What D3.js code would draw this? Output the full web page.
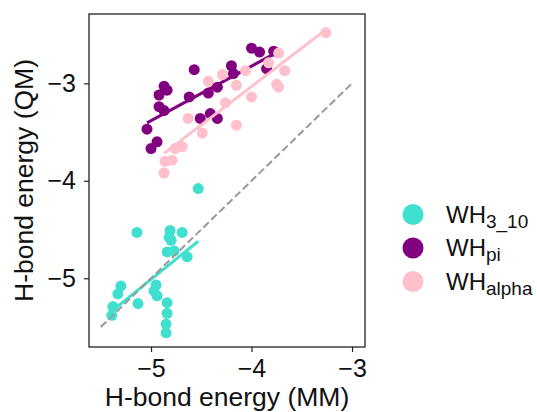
<!DOCTYPE html>
<html>
<head>
<meta charset="utf-8">
<script src="https://cdn.jsdelivr.net/npm/d3@7"></script>
<style>
  body { margin: 0; background: #fff; }
  svg { display: block; font-family: "Liberation Sans", Arial, Helvetica, sans-serif; }
</style>
</head>
<body>
<div id="chart"></div>
<script>
'use strict';

// groups, in draw order
const groups = ['3_10', 'pi', 'alpha'];
const colors = ['#40E0D0', '#800080', '#FFC0CB'];

// WH_3_10
const tenX = [-4.53, -5.14, -4.81, -4.69, -4.80, -4.84, -4.77, -4.64, -5.30, -5.33,
              -4.95, -4.97, -4.94, -5.13, -5.38, -5.39, -4.84, -4.84, -4.85, -4.85, -4.82];
const tenY = [-4.08, -4.53, -4.51, -4.53, -4.61, -4.73, -4.72, -4.78, -5.08, -5.16,
              -5.07, -5.13, -5.18, -5.26, -5.29, -5.38, -5.25, -5.36, -5.47, -5.56, -4.58];

// WH_pi
const piX = [-4.00, -3.92, -3.78, -3.85, -4.57, -4.20, -4.18, -4.87, -4.84, -4.92, -4.34,
             -4.43, -4.62, -4.92, -4.87, -4.51, -4.41, -4.34, -5.04, -4.94, -5.00];
const piY = [-2.64, -2.68, -2.67, -2.85, -2.86, -2.82, -2.90, -3.03, -3.07, -3.12, -3.04,
             -3.10, -3.14, -3.24, -3.28, -3.36, -3.31, -3.36, -3.47, -3.60, -3.67];

// WH_alpha
const alphaX = [-3.26, -3.73, -3.83, -3.67, -4.06, -4.29, -4.43, -4.15, -3.75, -3.73,
                -4.00, -4.26, -4.63, -4.15, -4.49, -4.69, -4.76, -4.79, -4.86, -4.87];
const alphaY = [-2.48, -2.69, -2.79, -2.87, -2.87, -2.91, -2.98, -3.02, -3.01, -3.04,
                -3.14, -3.20, -3.36, -3.43, -3.51, -3.65, -3.67, -3.79, -3.80, -3.92];

const xTicks = [-5, -4, -3];
const yTicks = [-5, -4, -3];
const identity = [-5.5, -3];

const seriesX = [tenX, piX, alphaX];
const seriesY = [tenY, piY, alphaY];

const width = 537, height = 412;
const margin = {top: 14, right: 172, bottom: 65, left: 89};

const svg = d3.select('#chart').append('svg')
    .attr('width', width)
    .attr('height', height);

const x = d3.scaleLinear()
    .domain([-5.617, -2.871])
    .range([margin.left, width - margin.right]);

const y = d3.scaleLinear()
    .domain([-5.705, -2.289])
    .range([height - margin.bottom, margin.top]);

// least squares fit
function fit(xs, ys) {
    const mx = d3.mean(xs), my = d3.mean(ys);
    let sxy = 0, sxx = 0;
    xs.forEach(function(v, i) {
        sxy += (v - mx) * (ys[i] - my);
        sxx += (v - mx) * (v - mx);
    });
    const b = sxy / sxx, a = my - b * mx;
    const ext = d3.extent(xs);
    return ext.map(function(v) { return [v, a + b * v]; });
}

const line = d3.line()
    .x(function(d) { return x(d[0]); })
    .y(function(d) { return y(d[1]); });

const plot = svg.append('g');

groups.forEach(function(g, k) {
    const pts = seriesX[k].map(function(v, i) { return [v, seriesY[k][i]]; });
    plot.append('g').selectAll('circle')
        .data(pts)
        .join('circle')
        .attr('cx', function(d) { return x(d[0]); })
        .attr('cy', function(d) { return y(d[1]); })
        .attr('r', 5.5)
        .attr('fill', colors[k]);

    plot.append('path')
        .datum(fit(seriesX[k], seriesY[k]))
        .attr('d', line)
        .attr('fill', 'none')
        .attr('stroke', colors[k])
        .attr('stroke-width', 3);
});

plot.append('path')
    .datum(identity.map(function(v) { return [v, v]; }))
    .attr('d', line)
    .attr('fill', 'none')
    .attr('stroke', '#999')
    .attr('stroke-width', 2)
    .attr('stroke-dasharray', '7.5,3.5');

// axes
const xAxis = svg.append('g')
    .attr('transform', 'translate(0,' + (height - margin.bottom) + ')')
    .call(d3.axisBottom(x).tickValues(xTicks).tickSize(5).tickPadding(7).tickFormat(d3.format('d')));

const yAxis = svg.append('g')
    .attr('transform', 'translate(' + margin.left + ',0)')
    .call(d3.axisLeft(y).tickValues(yTicks).tickSize(5).tickPadding(8).tickFormat(d3.format('d')));

[xAxis, yAxis].forEach(function(ax) {
    ax.select('.domain').remove();
    ax.selectAll('line').attr('stroke', '#222').attr('stroke-width', 1.2);
    ax.selectAll('text').attr('fill', '#111').style('font-size', '25px');
});

svg.append('rect')
    .attr('x', margin.left)
    .attr('y', margin.top)
    .attr('width', width - margin.left - margin.right)
    .attr('height', height - margin.top - margin.bottom)
    .attr('fill', 'none')
    .attr('stroke', '#222')
    .attr('stroke-width', 1.3);

svg.append('text')
    .attr('x', (margin.left + width - margin.right) / 2)
    .attr('y', 406)
    .attr('text-anchor', 'middle')
    .style('font-size', '26.5px')
    .attr('fill', '#111')
    .text('H-bond energy (MM)');

svg.append('text')
    .attr('transform', 'translate(33,' + ((margin.top + height - margin.bottom) / 2) + ') rotate(-90)')
    .attr('text-anchor', 'middle')
    .style('font-size', '26.5px')
    .attr('fill', '#111')
    .text('H-bond energy (QM)');

// legend
const legend = svg.append('g');
groups.forEach(function(g, k) {
    const cy = 214.5 + k * 33.5;
    legend.append('circle')
        .attr('cx', 413)
        .attr('cy', cy)
        .attr('r', 10.5)
        .attr('fill', colors[k]);
    const t = legend.append('text')
        .attr('x', 446)
        .attr('y', cy + 8)
        .attr('fill', '#111')
        .style('font-size', '24px');
    t.append('tspan').text('WH');
    t.append('tspan')
        .attr('dy', 5)
        .style('font-size', '19px')
        .text(g);
});
</script>
</body>
</html>
